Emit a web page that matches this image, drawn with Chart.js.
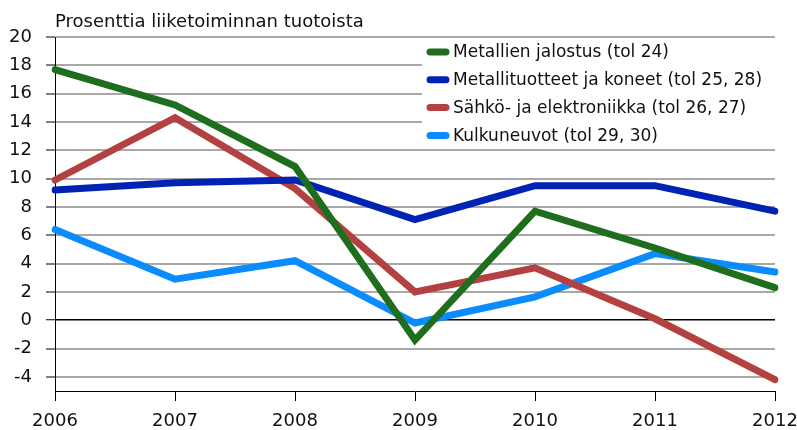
<!DOCTYPE html>
<html>
<head>
<meta charset="utf-8">
<script src="https://cdn.jsdelivr.net/npm/chart.js@4"></script>
<style>
  html, body { margin: 0; padding: 0; background: #fff; }
  canvas { display: block; }
</style>
</head>
<body>
<canvas id="chart" width="797" height="430"></canvas>
<script>
const years = ["2006", "2007", "2008", "2009", "2010", "2011", "2012"];
const metallienJalostus = [17.7, 15.2, 10.85, -1.4, 7.7, 5.1, 2.3];
const metallituotteet = [9.2, 9.7, 9.9, 7.1, 9.5, 9.5, 7.7];
const sahkoElektroniikka = [9.9, 14.3, 9.3, 2.0, 3.7, 0.1, -4.2];
const kulkuneuvot = [6.4, 2.9, 4.2, -0.2, 1.65, 4.7, 3.4];
const yTicks = [-4, -2, 0, 2, 4, 6, 8, 10, 12, 14, 16, 18, 20];
const title = "Prosenttia liiketoiminnan tuotoista";

Chart.defaults.font.family = "'DejaVu Sans', sans-serif";
Chart.defaults.color = "#000";

// white legend box drawn over the grid, under the lines
const legendBox = {
  id: "legendBox",
  beforeDatasetsDraw(chart) {
    const ctx = chart.ctx;
    ctx.save();
    ctx.fillStyle = "#fff";
    ctx.fillRect(422, 40, 354, 106);
    ctx.font = "17px 'DejaVu Sans', sans-serif";
    ctx.textBaseline = "middle";
    chart.data.datasets.forEach(function (ds, i) {
      const y = 52 + i * 27.8;
      ctx.strokeStyle = ds.borderColor;
      ctx.lineWidth = 7;
      ctx.lineCap = "round";
      ctx.beginPath();
      ctx.moveTo(430, y);
      ctx.lineTo(446, y);
      ctx.stroke();
      ctx.fillStyle = "#111";
      ctx.fillText(ds.label, 453, y + 1);
    });
    ctx.restore();
  },
  afterDraw(chart) {
    const ctx = chart.ctx;
    ctx.save();
    ctx.font = "18px 'DejaVu Sans', sans-serif";
    ctx.fillStyle = "#111";
    ctx.textBaseline = "middle";
    ctx.fillText(title, 55, 22);
    ctx.restore();
  }
};

new Chart(document.getElementById("chart"), {
  type: "line",
  data: {
    labels: years,
    datasets: [
      { label: "Metallien jalostus (tol 24)", data: metallienJalostus, borderColor: "#1e6e1e" },
      { label: "Metallituotteet ja koneet (tol 25, 28)", data: metallituotteet, borderColor: "#0023b4" },
      { label: "Sähkö- ja elektroniikka (tol 26, 27)", data: sahkoElektroniikka, borderColor: "#b44141" },
      { label: "Kulkuneuvot (tol 29, 30)", data: kulkuneuvot, borderColor: "#0a8cff" }
    ].map(function (ds) {
      return Object.assign(ds, {
        borderWidth: 7,
        pointRadius: 0,
        tension: 0,
        fill: false,
        borderCapStyle: "round"
      });
    })
  },
  options: {
    responsive: false,
    animation: false,
    layout: { padding: { top: 37, right: 22, left: 0, bottom: 0 } },
    plugins: {
      legend: { display: false },
      tooltip: { enabled: false }
    },
    scales: {
      x: {
        type: "category",
        offset: false,
        border: { color: "#000", width: 1 },
        grid: {
          drawOnChartArea: false,
          drawTicks: true,
          tickLength: 10,
          tickColor: "#000"
        },
        ticks: {
          font: { size: 18 },
          color: "#111",
          padding: 10,
          maxRotation: 0,
          autoSkip: false
        },
        afterFit(scale) {
          scale.height = 39;
          scale.paddingLeft = 0;
          scale.paddingRight = 0;
        }
      },
      y: {
        min: -5,
        max: 20,
        border: { color: "#000", width: 1 },
        grid: {
          color: function (c) { return c.tick && c.tick.value === 0 ? "#000" : "#a8a8a8"; },
          lineWidth: function (c) { return c.tick && c.tick.value === 0 ? 1.5 : 2; },
          tickLength: 9,
          tickColor: "#000",
          tickWidth: 1
        },
        ticks: {
          font: { size: 18 },
          color: "#111",
          padding: 14
        },
        afterBuildTicks(scale) {
          scale.ticks = yTicks.map(function (v) { return { value: v }; });
        },
        afterFit(scale) { scale.width = 55; }
      }
    }
  },
  plugins: [legendBox]
});
</script>
</body>
</html>
